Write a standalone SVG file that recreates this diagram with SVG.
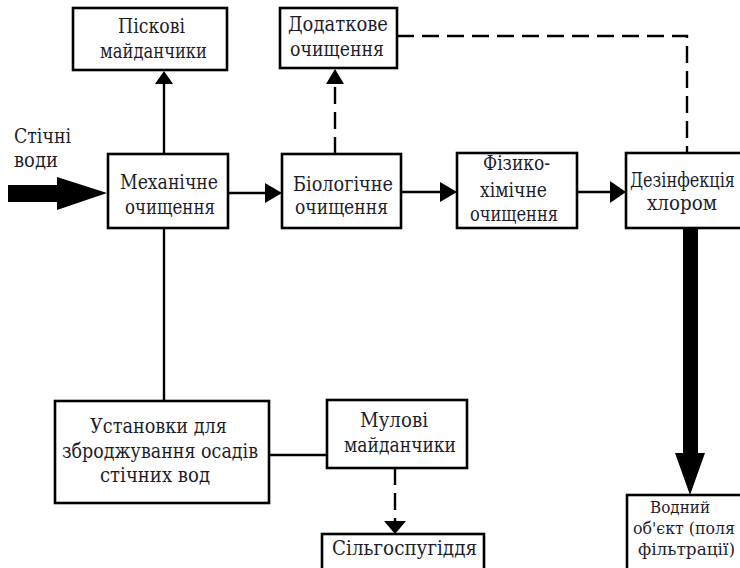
<svg xmlns="http://www.w3.org/2000/svg" width="740" height="568" viewBox="0 0 740 568">
<style>
.box{fill:#fff;stroke:#000;stroke-width:2.6}
.ln{fill:none;stroke:#000;stroke-width:2.4}
.dash{fill:none;stroke:#000;stroke-width:2.4;stroke-dasharray:17 8}
.hd{fill:#000;stroke:none}
.t{font-family:'DejaVu Serif',serif;font-size:20px;fill:#1e1e2a}
.s{font-size:17px}
</style>
<rect width="740" height="568" fill="#fff"/>
<g id="connectors">
  <polygon class="hd" points="8,185 57,185 57,177 107,193 57,210 57,202 8,202"/>
  <line class="ln" x1="164" y1="154" x2="164" y2="82"/>
  <polygon class="hd" points="164,71 155,84 173,84"/>
  <line class="dash" x1="335" y1="154" x2="335" y2="84"/>
  <polygon class="hd" points="335,69 326,84 344,84"/>
  <line class="ln" x1="228" y1="193" x2="267" y2="193"/>
  <polygon class="hd" points="282,193 265,183 265,203"/>
  <line class="ln" x1="401" y1="192" x2="442" y2="192"/>
  <polygon class="hd" points="457,192 440,182 440,202"/>
  <line class="ln" x1="577" y1="192" x2="612" y2="192"/>
  <polygon class="hd" points="626,192 610,181 610,203"/>
  <polyline class="dash" points="397,36 687,36 687,153"/>
  <polygon class="hd" points="683,228 698,228 698,453 705,453 690,495 675,453 683,453"/>
  <line class="ln" x1="164" y1="228" x2="164" y2="401"/>
  <line class="ln" x1="269" y1="455" x2="327" y2="455"/>
  <line class="dash" x1="395" y1="468" x2="395" y2="522"/>
  <polygon class="hd" points="395,534 384,521 406,521"/>
</g>
<g id="n_piskovi">
  <rect class="box" x="73" y="8" width="154" height="62"/>
  <text class="t" x="118" y="33" textLength="67" lengthAdjust="spacingAndGlyphs">Піскові</text>
  <text class="t" x="100" y="58" textLength="107" lengthAdjust="spacingAndGlyphs">майданчики</text>
</g>
<g id="n_dodatkove">
  <rect class="box" x="280" y="8" width="117" height="60"/>
  <text class="t" x="288" y="31" textLength="100" lengthAdjust="spacingAndGlyphs">Додаткове</text>
  <text class="t" x="290" y="56" textLength="94" lengthAdjust="spacingAndGlyphs">очищення</text>
</g>
<g id="n_stichni">
  <text class="t" x="14" y="143" textLength="57" lengthAdjust="spacingAndGlyphs">Стічні</text>
  <text class="t" x="14" y="167" textLength="44" lengthAdjust="spacingAndGlyphs">води</text>
</g>
<g id="n_mekh">
  <rect class="box" x="108" y="154" width="120" height="74"/>
  <text class="t" x="120" y="189" textLength="98" lengthAdjust="spacingAndGlyphs">Механічне</text>
  <text class="t" x="125" y="214" textLength="90" lengthAdjust="spacingAndGlyphs">очищення</text>
</g>
<g id="n_bio">
  <rect class="box" x="282" y="154" width="119" height="74"/>
  <text class="t" x="293" y="191" textLength="100" lengthAdjust="spacingAndGlyphs">Біологічне</text>
  <text class="t" x="295" y="214" textLength="93" lengthAdjust="spacingAndGlyphs">очищення</text>
</g>
<g id="n_fiz">
  <rect class="box" x="457" y="153" width="120" height="75"/>
  <text class="t" x="483" y="170" textLength="67" lengthAdjust="spacingAndGlyphs">Фізико-</text>
  <text class="t" x="480" y="197" textLength="67" lengthAdjust="spacingAndGlyphs">хімічне</text>
  <text class="t" x="470" y="221" textLength="88" lengthAdjust="spacingAndGlyphs">очищення</text>
</g>
<g id="n_dez">
  <rect class="box" x="626" y="153" width="130" height="75"/>
  <text class="t" x="630" y="187" textLength="105" lengthAdjust="spacingAndGlyphs">Дезінфекція</text>
  <text class="t" x="647" y="210" textLength="70" lengthAdjust="spacingAndGlyphs">хлором</text>
</g>
<g id="n_vodnyi">
  <rect class="box" x="627" y="495" width="130" height="90"/>
  <text class="t s" x="650" y="513" textLength="60" lengthAdjust="spacingAndGlyphs">Водний</text>
  <text class="t s" x="633" y="534" textLength="102" lengthAdjust="spacingAndGlyphs">об'єкт (поля</text>
  <text class="t s" x="638" y="555" textLength="97" lengthAdjust="spacingAndGlyphs">фільтрації)</text>
</g>
<g id="n_ustanovky">
  <rect class="box" x="55" y="401" width="214" height="102"/>
  <text class="t" x="90" y="433" textLength="137" lengthAdjust="spacingAndGlyphs">Установки для</text>
  <text class="t" x="62" y="458" textLength="196" lengthAdjust="spacingAndGlyphs">зброджування осадів</text>
  <text class="t" x="100" y="482" textLength="110" lengthAdjust="spacingAndGlyphs">стічних вод</text>
</g>
<g id="n_mulovi">
  <rect class="box" x="327" y="400" width="140" height="68"/>
  <text class="t" x="360" y="427" textLength="68" lengthAdjust="spacingAndGlyphs">Мулові</text>
  <text class="t" x="344" y="452" textLength="112" lengthAdjust="spacingAndGlyphs">майданчики</text>
</g>
<g id="n_silgosp">
  <rect class="box" x="322" y="534" width="162" height="45"/>
  <text class="t" x="332" y="555" textLength="145" lengthAdjust="spacingAndGlyphs">Сільгоспугіддя</text>
</g>
</svg>
